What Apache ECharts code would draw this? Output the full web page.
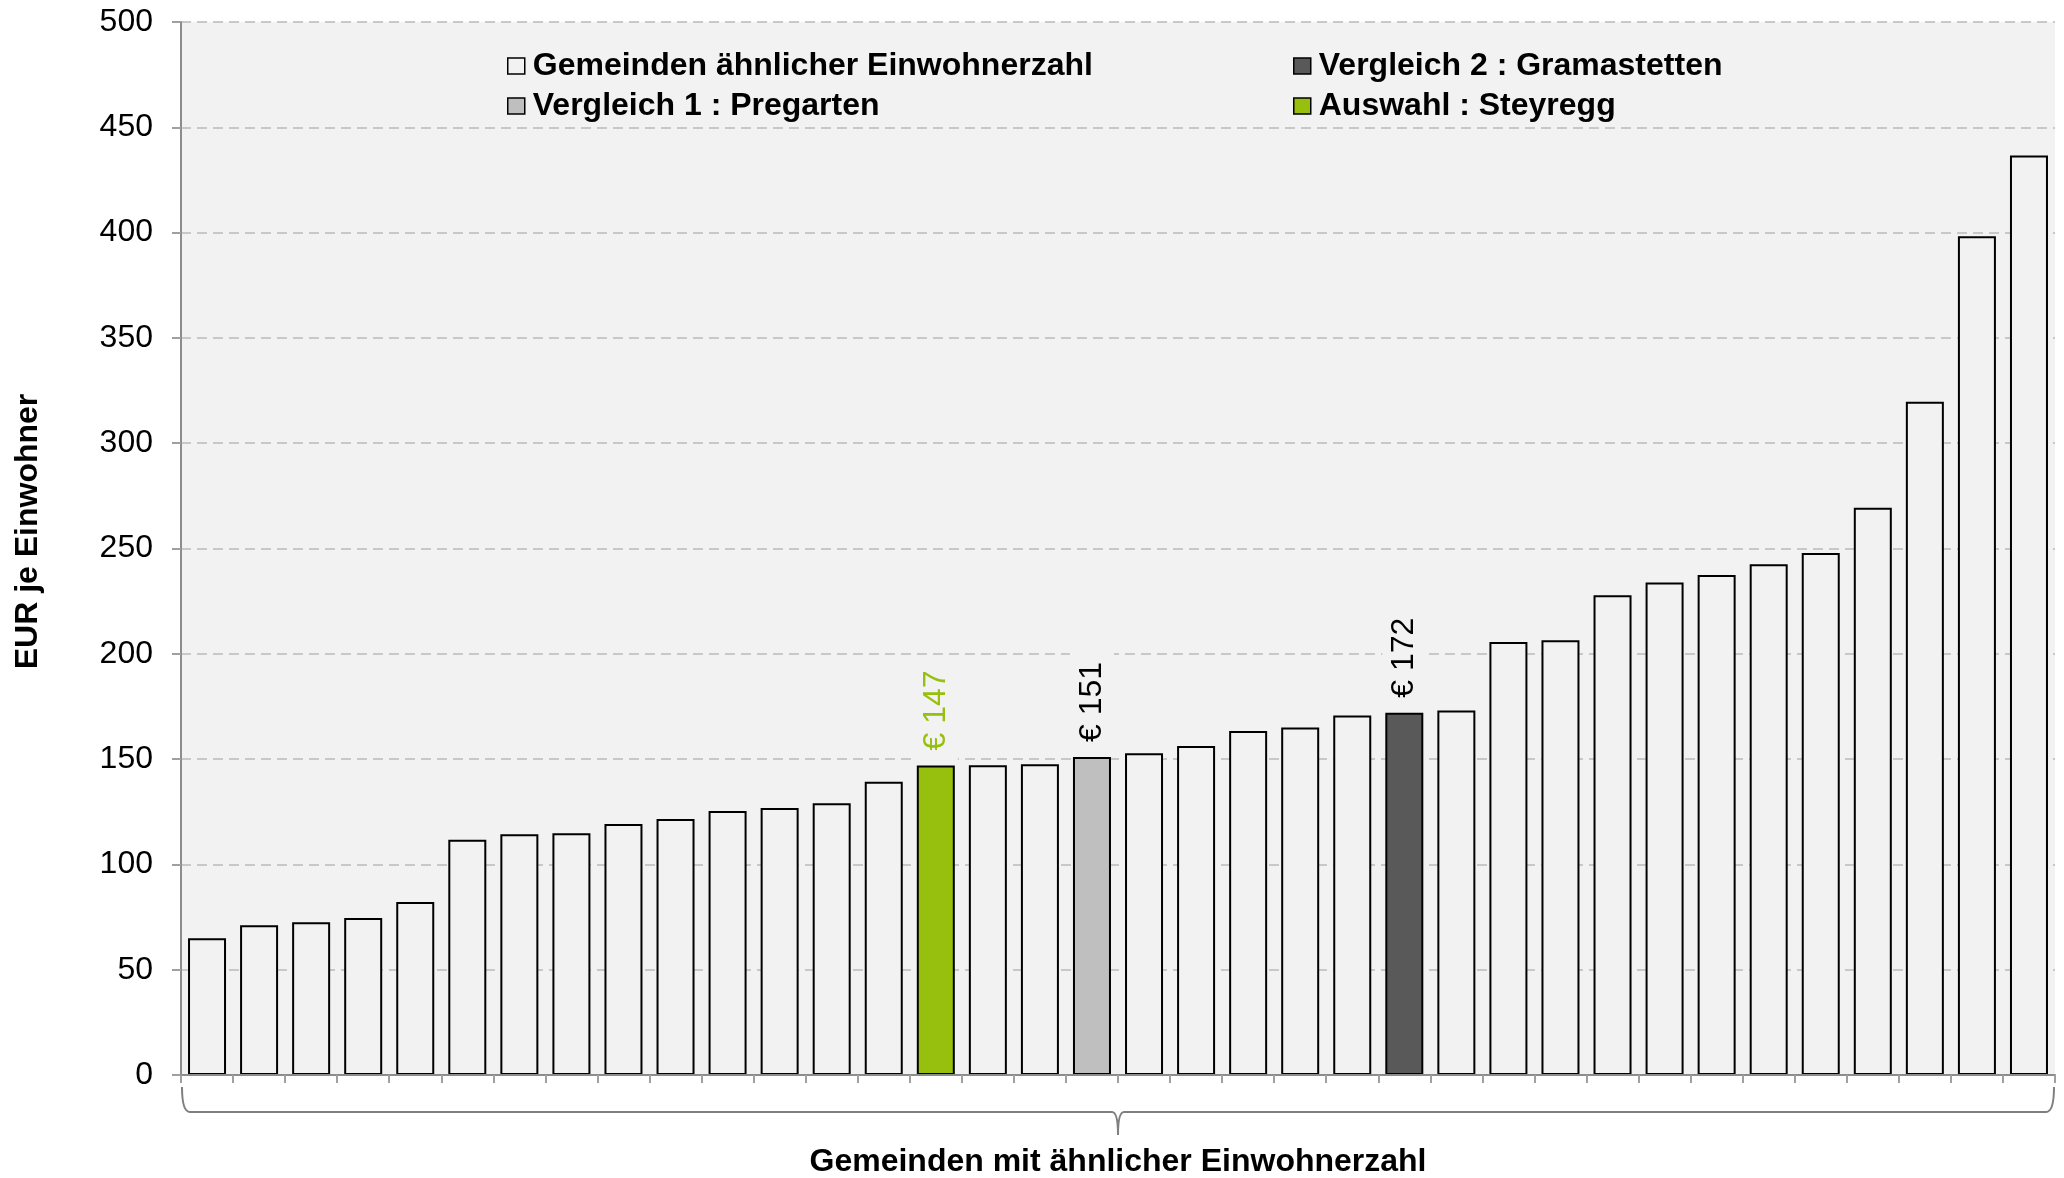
<!DOCTYPE html>
<html>
<head>
<meta charset="utf-8">
<script src="https://cdn.jsdelivr.net/npm/echarts@6/dist/echarts.min.js"></script>
<style>
html,body{margin:0;padding:0;background:#fff;}
#chart{width:2064px;height:1178px;}
</style>
</head>
<body>
<div id="chart"></div>
<script>
// ---- data ----
const categories = ['1','2','3','4','5','6','7','8','9','10','11','12','13','14','15','16','17','18',
  '19','20','21','22','23','24','25','26','27','28','29','30','31','32','33','34','35','36'];
const values = [64.9, 71.1, 72.5, 74.5, 82.1, 111.7, 114.3, 114.8, 119.2, 121.6, 125.4, 126.8,
  129.0, 139.3, 147, 147.1, 147.6, 151, 152.8, 156.2, 163.3, 165.0, 170.7, 172,
  173.1, 205.6, 206.4, 227.8, 233.9, 237.4, 242.5, 247.9, 269.3, 319.7, 398.3, 436.6];
const yTicks = [0, 50, 100, 150, 200, 250, 300, 350, 400, 450, 500];
const seriesNames = ['Gemeinden ähnlicher Einwohnerzahl', 'Vergleich 1 : Pregarten',
  'Vergleich 2 : Gramastetten', 'Auswahl : Steyregg'];
const auswahlIndex = 14;     // Steyregg
const vergleich1Index = 17;  // Pregarten
const vergleich2Index = 23;  // Gramastetten
const yAxisTitle = 'EUR je Einwohner';
const xAxisTitle = 'Gemeinden mit ähnlicher Einwohnerzahl';

// ---- styles ----
const FONT = "'Liberation Sans', Arial, sans-serif";
const colors = ['#f2f2f2', '#bfbfbf', '#595959', '#97bf0d'];
const labelColors = [null, '#000000', '#000000', '#97bf0d'];

const specialIdx = [null, vergleich1Index, vergleich2Index, auswahlIndex];
function buildData(k) {
  return values.map(function (v, i) {
    if (k === 0) {
      return (i === auswahlIndex || i === vergleich1Index || i === vergleich2Index) ? '-' : v;
    }
    return i === specialIdx[k] ? v : '-';
  });
}

const series = seriesNames.map(function (name, k) {
  return {
    name: name,
    type: 'bar',
    stack: 'all',
    barWidth: '73%',
    data: buildData(k),
    itemStyle: { color: colors[k], borderColor: '#000000', borderWidth: 2 },
    label: k === 0 ? { show: false } : {
      show: true,
      position: 'top',
      rotate: 90,
      align: 'left',
      verticalAlign: 'middle',
      distance: 5,
      padding: [6, 12, 6, 10],
      backgroundColor: '#f2f2f2',
      color: labelColors[k],
      fontFamily: FONT,
      fontSize: 32,
      formatter: function (p) { return '€ ' + Math.round(p.value); }
    },
    emphasis: { disabled: true }
  };
});

const chart = echarts.init(document.getElementById('chart'), null, { renderer: 'canvas' });

const legendCommon = {
  orient: 'vertical',
  icon: 'rect',
  itemWidth: 17,
  itemHeight: 16,
  itemGap: 8,
  padding: 0,
  selectedMode: false,
  itemStyle: { borderColor: '#000000', borderWidth: 1.5 },
  textStyle: { fontFamily: FONT, fontSize: 32, fontWeight: 'bold', color: '#000000', padding: [0, 0, 0, 3] }
};

chart.setOption({
  backgroundColor: '#ffffff',
  animation: false,
  grid: {
    left: 181, right: 9, top: 22, bottom: 103,
    outerBoundsMode: 'none',
    containLabel: false,
    show: true, backgroundColor: '#f2f2f2', borderWidth: 0
  },
  legend: [
    Object.assign({}, legendCommon, { left: 507, top: 50, data: [seriesNames[0], seriesNames[1]] }),
    Object.assign({}, legendCommon, { left: 1293, top: 50, data: [seriesNames[2], seriesNames[3]] })
  ],
  xAxis: {
    type: 'category',
    data: categories,
    boundaryGap: true,
    name: xAxisTitle,
    nameLocation: 'middle',
    nameGap: 71,
    nameTextStyle: { fontFamily: FONT, fontSize: 32, fontWeight: 'bold', color: '#000000' },
    axisLine: { show: true, lineStyle: { color: '#8c8c8c', width: 2 } },
    axisTick: { show: true, interval: 0, length: 8, lineStyle: { color: '#a0a0a0', width: 2 } },
    axisLabel: { show: false },
    splitLine: { show: false },
    z: 3
  },
  yAxis: {
    type: 'value',
    min: yTicks[0],
    max: yTicks[yTicks.length - 1],
    interval: yTicks[1] - yTicks[0],
    name: yAxisTitle,
    nameLocation: 'middle',
    nameRotate: 90,
    nameGap: 137,
    nameTextStyle: { fontFamily: FONT, fontSize: 32, fontWeight: 'bold', color: '#000000', padding: [0, 0, 0, 34] },
    axisLine: { show: true, lineStyle: { color: '#8c8c8c', width: 2 } },
    axisTick: { show: true, length: 9, lineStyle: { color: '#a0a0a0', width: 2 } },
    axisLabel: { margin: 28, fontFamily: FONT, fontSize: 32, color: '#000000' },
    splitLine: { show: true, lineStyle: { color: '#c8c8c8', width: 2, type: [10, 6] } }
  },
  series: series
});

// brace under the x axis, placed from the axis scale
function drawBrace() {
  const p0 = chart.convertToPixel({ gridIndex: 0 }, [0, 0]);
  const grid = chart.getModel().getComponent('grid', 0).coordinateSystem.getRect();
  const x0 = grid.x + 1, x1 = grid.x + grid.width - 1;
  const ya = p0[1];
  const y1 = ya + 37, y2 = ya + 60, yTop = ya + 12;
  const xc = (x0 + x1) / 2;
  const st = { fill: null, stroke: '#7f7f7f', lineWidth: 2 };
  chart.setOption({
    graphic: [
      { type: 'bezierCurve', silent: true, style: st,
        shape: { x1: x0, y1: yTop, cpx1: x0, cpy1: y1, x2: x0 + 8, y2: y1 } },
      { type: 'line', silent: true, style: st,
        shape: { x1: x0 + 8, y1: y1, x2: xc - 6, y2: y1 } },
      { type: 'bezierCurve', silent: true, style: st,
        shape: { x1: xc - 6, y1: y1, cpx1: xc, cpy1: y1, x2: xc, y2: y2 } },
      { type: 'bezierCurve', silent: true, style: st,
        shape: { x1: xc, y1: y2, cpx1: xc, cpy1: y1, x2: xc + 6, y2: y1 } },
      { type: 'line', silent: true, style: st,
        shape: { x1: xc + 6, y1: y1, x2: x1 - 8, y2: y1 } },
      { type: 'bezierCurve', silent: true, style: st,
        shape: { x1: x1 - 8, y1: y1, cpx1: x1, cpy1: y1, x2: x1, y2: yTop } }
    ]
  });
}
drawBrace();
</script>
</body>
</html>
